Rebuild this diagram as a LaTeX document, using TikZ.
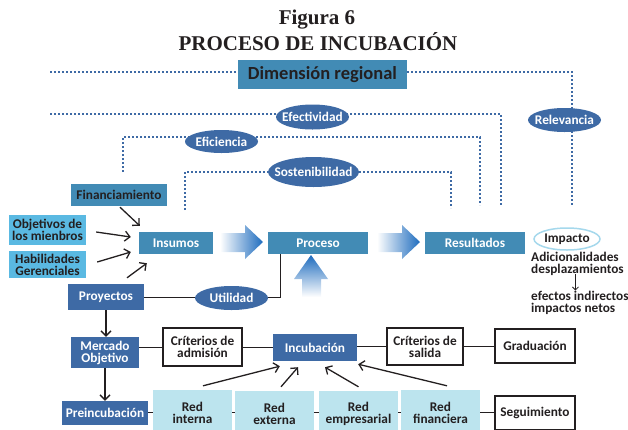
\documentclass[tikz,border=0pt]{standalone}
\usepackage{fontspec}
\setmainfont{Carlito}
\newfontfamily\titlefont{Liberation Serif}
\usetikzlibrary{arrows.meta,shapes.geometric}

\definecolor{steel}{RGB}{66,139,181}
\definecolor{navy}{RGB}{62,106,165}
\definecolor{sky}{RGB}{90,185,226}
\definecolor{pale}{RGB}{188,228,238}
\definecolor{ink}{RGB}{35,31,32}
\definecolor{ring}{RGB}{165,216,236}
\definecolor{flow}{RGB}{30,108,190}

\pgfdeclarelayer{bg}
\pgfsetlayers{bg,main}

% zero-width text so the ellipse size comes only from its minimum size
\newcommand\ovaltext[1]{\makebox[0pt]{#1}}

\tikzset{
  box/.style={rectangle, inner sep=0pt, align=center,
              font=\fontsize{13.3}{12}\selectfont\bfseries},
  steelbox/.style={box, fill=steel, text=white},
  darkbox/.style={box, fill=steel, text=ink},
  navybox/.style={box, fill=navy, text=white},
  skybox/.style={box, fill=sky, text=ink},
  palebox/.style={box, fill=pale, text=ink},
  framebox/.style={box, fill=white, draw=ink, line width=1.2pt, text=ink},
  oval/.style={ellipse, fill=navy, text=white, inner sep=0pt,
               font=\fontsize{13.3}{13}\selectfont\bfseries},
  dots/.style={navy, line width=1.6pt, dash pattern=on 1.8pt off 2.2pt},
  link/.style={ink, line width=1pt},
  arr/.style={ink, line width=1.3pt, -{Straight Barb[length=5pt,width=10pt]}},
  smallarr/.style={ink, line width=0.8pt, -{Straight Barb[length=3pt,width=6pt]}},
  plain/.style={inner sep=0pt, align=left, text=ink,
                font=\fontsize{13.3}{11.5}\selectfont\bfseries}
}

\begin{document}
\begin{tikzpicture}[x=1pt,y=-1pt]
\useasboundingbox (0,0) rectangle (628,429);

% heading
\node[font=\titlefont\fontsize{21}{21}\selectfont\bfseries, text=ink, anchor=base]
  (fig) at (317,24) {Figura 6};
\node[font=\titlefont\fontsize{21}{21}\selectfont\bfseries, text=ink, anchor=base]
  (ttl) at (318,50) {PROCESO DE INCUBACIÓN};

% regional dimension
\node[darkbox, minimum width=169pt, minimum height=29pt,
      font=\fontsize{18.5}{18}\selectfont\bfseries] (dim) at (322.5,74.5) {Dimensión regional};

% evaluation criteria
\node[oval, minimum width=73pt, minimum height=25pt] (efect) at (312.5,117) {\ovaltext{Efectividad}};
\node[oval, minimum width=73pt, minimum height=23pt] (efic) at (221.5,141.5) {\ovaltext{Eficiencia}};
\node[oval, minimum width=91pt, minimum height=30pt] (sost) at (313.5,172) {\ovaltext{Sostenibilidad}};
\node[oval, minimum width=73pt, minimum height=24pt] (relev) at (564.5,120) {\ovaltext{Relevancia}};

% dotted frames
\coordinate (dimL) at (50,72);
\coordinate (dimR) at (572,72);
\coordinate (relevEnd) at (572,205);
\coordinate (efectL) at (50,114);
\coordinate (efectR) at (501,114);
\coordinate (efectEnd) at (501,205);
\coordinate (eficStart) at (123,172);
\coordinate (eficL) at (123,137);
\coordinate (eficR) at (480,137);
\coordinate (eficEnd) at (480,205);
\coordinate (sostStart) at (185,210);
\coordinate (sostL) at (185,172);
\coordinate (sostR) at (451,172);
\coordinate (sostEnd) at (451,208);
\begin{pgfonlayer}{bg}
  \draw[dots] (dimL) -- (dim.west |- dimL);
  \draw[dots] (dim.east |- dimR) -- (dimR) -- (relevEnd);
  \draw[dots] (efectL) -- (efectR) -- (efectEnd);
  \draw[dots] (eficStart) -- (eficL) -- (eficR) -- (eficEnd);
  \draw[dots] (sostStart) -- (sostL) -- (sostR) -- (sostEnd);
\end{pgfonlayer}

% inputs
\node[darkbox, minimum width=96pt, minimum height=22pt] (fin) at (119,195) {Financiamiento};
\node[skybox, minimum width=77pt, minimum height=30pt] (obj) at (47.5,230) {Objetivos de\\los mienbros};
\node[skybox, minimum width=77pt, minimum height=27pt] (hab) at (47.5,264.5) {Habilidades\\Gerenciales};
\node[navybox, minimum width=76pt, minimum height=26pt] (proy) at (106,297) {Proyectos};

% main flow
\node[steelbox, minimum width=74pt, minimum height=22pt] (ins) at (176,243) {Insumos};
\node[steelbox, minimum width=100pt, minimum height=22pt] (pro) at (318,243) {Proceso};
\node[steelbox, minimum width=100pt, minimum height=22pt] (res) at (475,243) {Resultados};

\shade[left color=white, right color=flow]
  (220,233) -- (245,233) -- (245,225) -- (263,242) -- (245,259) -- (245,252) -- (220,252) -- cycle;
\shade[left color=white, right color=flow]
  (377,233) -- (402,233) -- (402,225) -- (420,242) -- (402,259) -- (402,252) -- (377,252) -- cycle;
\shade[top color=flow, bottom color=white]
  (311,255) -- (328,279) -- (321,279) -- (321,297) -- (302,297) -- (302,279) -- (294,279) -- cycle;

\draw[arr] ([shift={(1,1)}]fin.south) -- ([shift={(1,-6)}]ins.north west);
\draw[arr] ([shift={(10,2)}]obj.east) -- ([shift={(-8,-6)}]ins.west);
\draw[arr] ([shift={(11,-2.5)}]hab.east) -- ([shift={(-8,9)}]ins.west);
\draw[arr] ([shift={(21,-6)}]proy.north) -- ([shift={(8,9)}]ins.south west);

% utility link
\coordinate (utilTurn) at (280,297);
\draw[link] (proy.east) -- (utilTurn) -- (utilTurn |- pro.south);
\node[oval, minimum width=73pt, minimum height=24pt] (util) at (231.5,298) {\ovaltext{Utilidad}};

% impact
\node[ellipse, draw=ring, fill=white, line width=1.5pt, inner sep=0pt, text=ink,
      font=\fontsize{13.3}{13}\selectfont\bfseries,
      minimum width=66pt, minimum height=22pt] (imp) at (567,239) {\ovaltext{Impacto}};
\node[plain, anchor=north west] (adic) at (531,252) {Adicionalidades\\desplazamientos};
\node[plain, anchor=north west] (eff) at (531,291) {efectos indirectos\\impactos netos};
\draw[smallarr, shorten >=0.5pt] ([xshift=-2pt,yshift=1.5pt]adic.south) -- ([xshift=-2pt]adic.south |- eff.north);

% incubation stages
\node[navybox, minimum width=68pt, minimum height=31pt] (merc) at (105,352.5) {Mercado\\Objetivo};
\node[navybox, minimum width=86pt, minimum height=24pt] (prein) at (105,413) {Preincubación};
\node[framebox, minimum width=79pt, minimum height=38pt] (cadm) at (202.5,347) {Críterios de\\admisión};
\node[navybox, minimum width=84pt, minimum height=27pt] (inc) at (315,347.5) {Incubación};
\node[framebox, minimum width=76pt, minimum height=37pt] (csal) at (425,346.5) {Críterios de\\salida};
\node[framebox, minimum width=80pt, minimum height=34pt] (grad) at (535,346) {Graduación};

\node[palebox, minimum width=79pt, minimum height=46pt] (rint) at (192.5,413) {Red\\interna};
\node[palebox, minimum width=79pt, minimum height=46pt] (rext) at (274.5,414) {Red\\externa};
\node[palebox, minimum width=79pt, minimum height=46pt] (remp) at (358.5,414) {Red\\empresarial};
\node[palebox, minimum width=79pt, minimum height=46pt] (rfin) at (440.5,413) {Red\\financiera};
\node[framebox, minimum width=80pt, minimum height=34pt] (seg) at (535,413) {Seguimiento};

\draw[arr] (proy.south) -- (proy.south |- merc.north);
\draw[arr] (merc.south) -- (prein.north);

\draw[link] (cadm.west -| merc.east) -- (cadm.west);
\draw[link] (cadm.east) -- (inc.west |- cadm.east);
\draw[link] (inc.east |- csal.west) -- (csal.west);
\draw[link] (csal.east) -- (grad.west |- csal.east);

\coordinate (row) at (0,412);
\draw[link] (prein.east |- row) -- (rint.west |- row);
\draw[link] (rint.east |- row) -- (rext.west |- row);
\draw[link] (rext.east |- row) -- (remp.west |- row);
\draw[link] (remp.east |- row) -- (rfin.west |- row);
\draw[link] (rfin.east |- row) -- (seg.west |- row);

\draw[arr] ([shift={(10.5,-4)}]rint.north) -- ([shift={(7,5)}]inc.south west);
\draw[arr] ([shift={(6.5,-4)}]rext.north) -- ([shift={(-17,6)}]inc.south);
\draw[arr] ([shift={(0,-4)}]remp.north) -- ([shift={(10,6)}]inc.south);
\draw[arr] ([shift={(6.5,-4)}]rfin.north) -- ([shift={(1,3)}]inc.south east);
\end{tikzpicture}
\end{document}
